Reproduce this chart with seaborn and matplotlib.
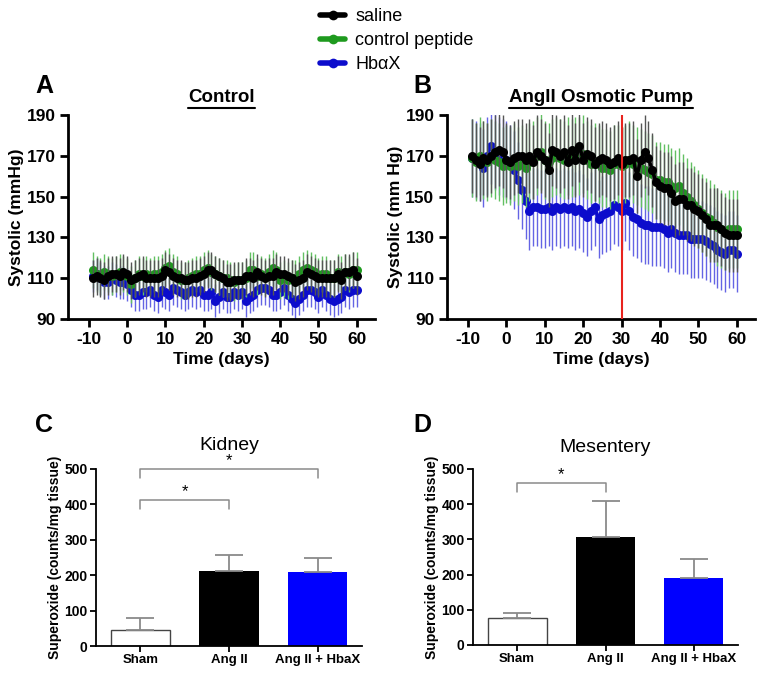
import numpy as np
import pandas as pd
import matplotlib
matplotlib.use('Agg')
import matplotlib.pyplot as plt
import seaborn as sns
from matplotlib.lines import Line2D

sns.set_theme(style='ticks')
plt.rcParams['font.family'] = ['Liberation Sans', 'DejaVu Sans']
plt.rcParams.update({'text.color': 'black', 'axes.labelcolor': 'black', 'axes.edgecolor': 'black',
                     'xtick.color': 'black', 'ytick.color': 'black'})

# DATA - daily systolic pressure, days -9 .. 60
days = list(range(-9, 61))

# Panel A - control
ctrl_saline = [110, 111, 110, 109, 111, 112, 112, 111, 113, 112,
               109, 110, 111, 112, 110, 110, 110, 110, 111, 114,
               113, 111, 110, 110, 109, 109, 110, 110, 111, 112,
               114, 114, 112, 111, 110, 108, 108, 109, 109, 109,
               111, 111, 110, 113, 111, 110, 111, 111, 113, 112,
               112, 111, 110, 108, 109, 110, 113, 112, 111, 110,
               110, 110, 110, 110, 112, 109, 113, 113, 114, 111]
ctrl_peptide = [114, 112, 111, 113, 112, 111, 112, 113, 112, 111,
                107, 110, 112, 111, 112, 111, 112, 112, 113, 115,
                116, 113, 112, 109, 109, 110, 111, 112, 112, 114,
                115, 113, 112, 111, 110, 110, 109, 108, 109, 109,
                110, 114, 114, 111, 112, 111, 113, 115, 114, 109,
                110, 109, 110, 110, 112, 114, 115, 114, 113, 111,
                112, 112, 110, 110, 113, 112, 113, 112, 114, 114]
ctrl_hbax = [111, 112, 110, 108, 108, 110, 109, 108, 108, 107,
             104, 102, 102, 103, 103, 104, 102, 101, 104, 103,
             102, 105, 104, 103, 102, 103, 104, 103, 104, 102,
             102, 103, 99, 101, 103, 101, 101, 103, 102, 103,
             99, 101, 102, 104, 105, 105, 104, 102, 102, 103,
             105, 102, 100, 98, 100, 102, 104, 104, 103, 101,
             104, 102, 100, 99, 100, 101, 104, 103, 104, 104]
ctrl_err = {'saline': 9, 'peptide': 9, 'hbax': 8}

# Panel B - AngII osmotic pump
pump_saline = [170, 168, 166, 169, 168, 170, 172, 173, 172, 168,
               167, 169, 170, 170, 168, 170, 167, 172, 170, 168,
               163, 173, 172, 170, 172, 167, 173, 168, 175, 168,
               171, 170, 166, 168, 169, 168, 166, 167, 169, 166,
               168, 168, 169, 160, 168, 172, 169, 163, 157, 155,
               154, 154, 152, 148, 149, 149, 146, 146, 144, 143,
               141, 139, 136, 136, 136, 134, 132, 131, 131, 131]
pump_peptide = [169, 167, 170, 168, 167, 169, 168, 167, 165, 166,
                165, 167, 165, 166, 164, 167, 168, 170, 172, 168,
                167, 169, 170, 169, 168, 170, 169, 170, 170, 171,
                168, 166, 167, 166, 164, 164, 163, 166, 166, 165,
                166, 168, 166, 165, 164, 163, 162, 161, 158, 158,
                157, 157, 155, 154, 155, 152, 150, 148, 146, 144,
                142, 140, 139, 137, 135, 134, 133, 134, 134, 134]
pump_hbax = [169, 168, 167, 164, 170, 175, 172, 170, 169, 168,
             166, 163, 158, 153, 148, 143, 145, 145, 144, 144,
             145, 143, 145, 144, 145, 144, 145, 143, 144, 142,
             140, 143, 145, 139, 141, 142, 143, 146, 145, 143,
             147, 143, 140, 139, 137, 136, 136, 135, 135, 135,
             134, 132, 134, 132, 131, 131, 131, 129, 129, 129,
             129, 128, 127, 126, 124, 123, 122, 124, 124, 122]
pump_err = {'saline': 18, 'peptide': 19, 'hbax': 19}
pump_start_day = 30

# Panels C, D - superoxide
groups = ['Sham', 'Ang II', 'Ang II + HbaX']
kidney_mean = [44, 212, 210]
kidney_err = [36, 46, 40]
kidney_brackets = [(0, 1, 412, '*'), (0, 2, 499, '*')]
mes_mean = [77, 307, 191]
mes_err = [15, 101, 52]
mes_brackets = [(0, 1, 459, '*')]

series_names = {'saline': 'saline', 'peptide': 'control peptide', 'hbax': 'Hb\u03b1X'}
line_colors = {'saline': '#000000', 'peptide': '#1e9a1e', 'hbax': '#0c0ccc'}
err_colors = {'saline': '#555555', 'peptide': '#62c062', 'hbax': '#6464e4'}
bar_colors = ['#ffffff', '#000000', '#0000ff']

fig = plt.figure(figsize=(7.66, 6.78), dpi=100)
W, H = 766, 678


def add_ax(left, top, right, bottom):
    return fig.add_axes([left / W, 1 - bottom / H, (right - left) / W, (bottom - top) / H])


def draw_series(ax, means, err, key, z):
    lo = [m - err for m in means]
    hi = [m + err for m in means]
    ax.vlines(days, lo, hi, color=err_colors[key], lw=1.0, zorder=z)
    sns.lineplot(x=days, y=means, ax=ax, color=line_colors[key], lw=2.5, marker='o',
                 markersize=6.5, markeredgewidth=0, zorder=z + 1)


def style_time_axis(ax, ylabel, title):
    ax.set_xlim(-15.5, 64.8)
    ax.set_ylim(90, 190)
    ax.set_xticks(range(-10, 61, 10), labels=[str(v) for v in range(-10, 61, 10)],
                  fontweight='bold', fontsize=12.5)
    ax.set_yticks(range(90, 191, 20), labels=[str(v) for v in range(90, 191, 20)],
                  fontweight='bold', fontsize=12.5)
    ax.tick_params(direction='out', length=6, width=2, pad=3)
    for s in ['left', 'bottom']:
        ax.spines[s].set_linewidth(2)
    sns.despine(ax=ax)
    ax.set_xlabel('Time (days)', fontweight='bold', fontsize=12.5, labelpad=4)
    ax.set_ylabel(ylabel, fontweight='bold', fontsize=12.5, labelpad=2)
    return ax.set_title(title, fontweight='bold', fontsize=13.5, pad=9)


titles = []

# A
axA = add_ax(68, 115, 375, 319)
for z, (key, vals) in enumerate([('hbax', ctrl_hbax), ('peptide', ctrl_peptide), ('saline', ctrl_saline)]):
    draw_series(axA, vals, ctrl_err[key], key, 2 + 2 * z)
titles.append(style_time_axis(axA, 'Systolic (mmHg)', 'Control'))

# B
axB = add_ax(447, 115, 755, 319)
for z, (key, vals) in enumerate([('hbax', pump_hbax), ('peptide', pump_peptide), ('saline', pump_saline)]):
    draw_series(axB, vals, pump_err[key], key, 2 + 2 * z)
axB.axvline(pump_start_day, color='#e8231e', lw=1.5, zorder=10)
titles.append(style_time_axis(axB, 'Systolic (mm Hg)', 'AngII Osmotic Pump'))


def draw_bars(ax, means, errs, brackets, title, title_pad):
    df = pd.DataFrame({'group': groups, 'value': means})
    sns.barplot(data=df, x='group', y='value', hue='group', palette=bar_colors, saturation=1,
                width=0.67, errorbar=None, legend=False, ax=ax, linewidth=0, zorder=2)
    ax.patches[0].set_edgecolor('#444444')
    ax.patches[0].set_linewidth(1.0)
    ax.errorbar(range(len(groups)), means, yerr=[[0] * len(errs), errs], fmt='none',
                ecolor='#8a8a8a', elinewidth=1.3, capsize=10, capthick=1.3, zorder=3)
    for i, j, h, mark in brackets:
        ax.plot([i, i, j, j], [h - 25, h, h, h - 25], color='#8a8a8a', lw=1.1, clip_on=False)
        ax.text((i + j) / 2, h + 3, mark, ha='center', va='bottom', fontsize=12)
    ax.set_xlim(-0.5, 2.5)
    ax.set_ylim(0, 500)
    ax.set_xticks(range(len(groups)), labels=groups, fontweight='bold', fontsize=9.5)
    ax.set_yticks(range(0, 501, 100), labels=[str(v) for v in range(0, 501, 100)],
                  fontweight='bold', fontsize=10)
    ax.tick_params(direction='out', length=4, width=1.3, pad=2)
    for s in ['left', 'bottom']:
        ax.spines[s].set_linewidth(1.3)
    sns.despine(ax=ax)
    ax.set_xlabel('')
    ax.set_ylabel('Superoxide (counts/mg tissue)', fontweight='bold', fontsize=10, labelpad=2)
    ax.set_title(title, fontsize=14, pad=title_pad)


axC = add_ax(96, 469, 362, 646)
draw_bars(axC, kidney_mean, kidney_err, kidney_brackets, 'Kidney', 13.5)
axD = add_ax(473, 469, 738, 645)
draw_bars(axD, mes_mean, mes_err, mes_brackets, 'Mesentery', 12.5)

# Panel letters
for letter, (px, py) in zip('ABCD', [(35, 93), (413, 93), (35, 432), (413, 432)]):
    fig.text(px / W, 1 - py / H, letter, fontsize=18, fontweight='bold', ha='left', va='baseline')

# Legend
handles = [Line2D([], [], color=line_colors[k], lw=4, marker='o', markersize=7, markeredgewidth=0)
           for k in ['saline', 'peptide', 'hbax']]
fig.legend(handles, [series_names[k] for k in ['saline', 'peptide', 'hbax']],
           loc='upper left', bbox_to_anchor=(320 / W, 1 - 8 / H), frameon=False, fontsize=13,
           handlelength=1.4, handletextpad=0.55, labelspacing=0.4, borderpad=0, borderaxespad=0,
           numpoints=1)

# Underline the top titles
fig.canvas.draw()
inv = fig.transFigure.inverted()
for t in titles:
    bb = t.get_window_extent()
    (x0, y0), (x1, _) = inv.transform([(bb.x0, bb.y0 - 1), (bb.x1, bb.y0 - 1)])
    fig.add_artist(Line2D([x0, x1], [y0, y0], color='black', lw=1.5))

fig.savefig('out.png', dpi=100)
